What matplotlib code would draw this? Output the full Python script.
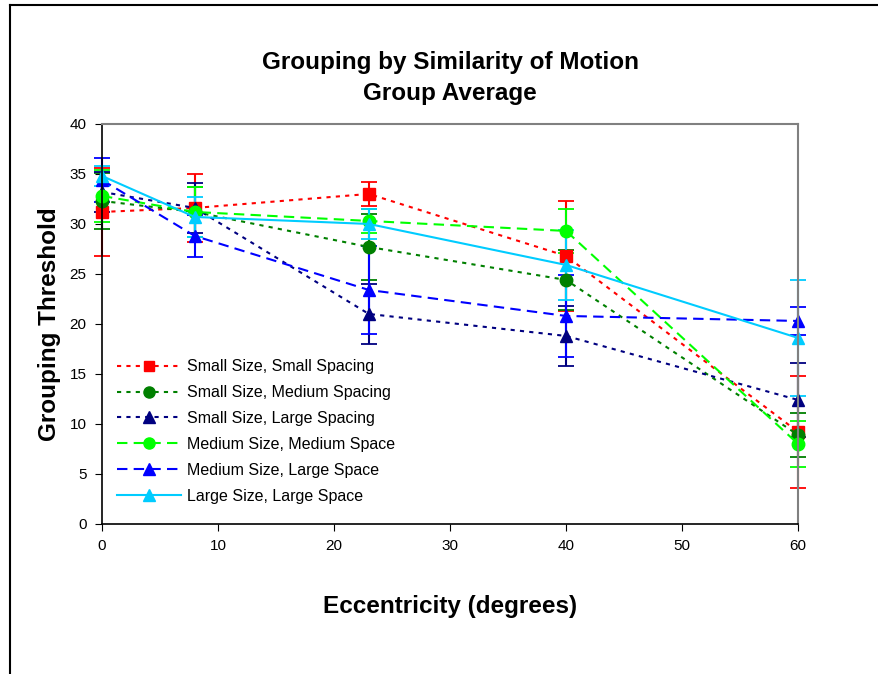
import matplotlib
matplotlib.use("Agg")
import matplotlib.pyplot as plt
from matplotlib.lines import Line2D

plt.rcParams['font.family'] = ['Liberation Sans', 'DejaVu Sans']

# Eccentricity (degrees)
ecc = [0, 8, 23, 40, 60]

# Series labels
labels = ["Small Size, Small Spacing", "Small Size, Medium Spacing",
          "Small Size, Large Spacing", "Medium Size, Medium Space",
          "Medium Size, Large Space", "Large Size, Large Space"]

# Group averages
ss_vals = [31.2, 31.6, 33.0, 26.8, 9.2]
sm_vals = [32.3, 31.2, 27.7, 24.4, 8.9]
sl_vals = [33.2, 31.6, 21.0, 18.8, 12.4]
mm_vals = [32.8, 31.2, 30.3, 29.3, 8.0]
ml_vals = [34.4, 28.8, 23.4, 20.8, 20.3]
ll_vals = [34.8, 30.7, 30.0, 25.9, 18.6]

# Error bars
ss_err = [4.4, 3.4, 1.2, 5.5, 5.6]
sm_err = [2.8, 2.5, 3.3, 3.0, 2.2]
sl_err = [2.0, 2.5, 3.0, 3.0, 3.7]
mm_err = [2.6, 2.5, 1.2, 2.2, 2.3]
ml_err = [2.2, 2.1, 4.4, 4.1, 1.4]
ll_err = [1.0, 2.0, 1.5, 3.5, 5.8]

series = [
    (ss_vals, ss_err, "#ff0000", "s", (0, (2, 2.5)), 8),
    (sm_vals, sm_err, "#008000", "o", (0, (2, 2.5)), 9),
    (sl_vals, sl_err, "#000080", "^", (0, (2, 2.5)), 9),
    (mm_vals, mm_err, "#00ff00", "o", (0, (5, 3)), 9),
    (ml_vals, ml_err, "#0000ff", "^", (0, (5, 3)), 9),
    (ll_vals, ll_err, "#00ccff", "^", "-", 9),
]

fig = plt.figure(figsize=(8.79, 6.74), dpi=100)
ax = fig.add_axes([0.116, 0.2226, 0.792, 0.5935])

handles = []
for (vals, err, col, mk, ls, ms), lab in zip(series, labels):
    line, caps, bars = ax.errorbar(ecc, vals, yerr=err, color=col, ecolor=col,
                                   marker=mk, markersize=ms, linestyle=ls,
                                   linewidth=1.5, elinewidth=1.5, capsize=6,
                                   capthick=1.3)
    line.set_clip_on(False)
    for c in caps:
        c.set_clip_on(False)
    for b in bars:
        b.set_clip_on(False)
    handles.append(Line2D([], [], color=col, marker=mk, markersize=ms - 1,
                          linestyle=ls, linewidth=1.5, label=lab))

ax.set_xlim(0, 60)
ax.set_ylim(0, 40)
ax.set_xticks(range(0, 61, 10))
ax.set_yticks(range(0, 41, 5))
ax.tick_params(direction='out', length=5, labelsize=11, pad=6)

for side in ['top', 'right']:
    ax.spines[side].set_color('#808080')
    ax.spines[side].set_linewidth(1.5)
for side in ['left', 'bottom']:
    ax.spines[side].set_color('black')
    ax.spines[side].set_linewidth(1.2)

ax.set_xlabel("Eccentricity (degrees)", fontsize=17.5, fontweight='bold', labelpad=30)
ax.set_ylabel("Grouping Threshold", fontsize=17.5, fontweight='bold', labelpad=6)
fig.text(0.512, 0.884, "Grouping by Similarity of Motion\nGroup Average",
         ha='center', va='center', fontsize=17.5, fontweight='bold',
         linespacing=1.45)

ax.legend(handles=handles, loc='lower left', bbox_to_anchor=(0.012, 0.035),
          frameon=False, fontsize=11.5, handlelength=4.0, labelspacing=0.68,
          handletextpad=0.4, borderaxespad=0)

# outer chart border (left and top edges visible)
fig.add_artist(Line2D([0.0114, 0.0114], [0.0, 0.993], color='black', linewidth=1.5,
                      transform=fig.transFigure))
fig.add_artist(Line2D([0.0114, 1.0], [0.993, 0.993], color='black', linewidth=1.5,
                      transform=fig.transFigure))

fig.savefig("out.png", dpi=100)
